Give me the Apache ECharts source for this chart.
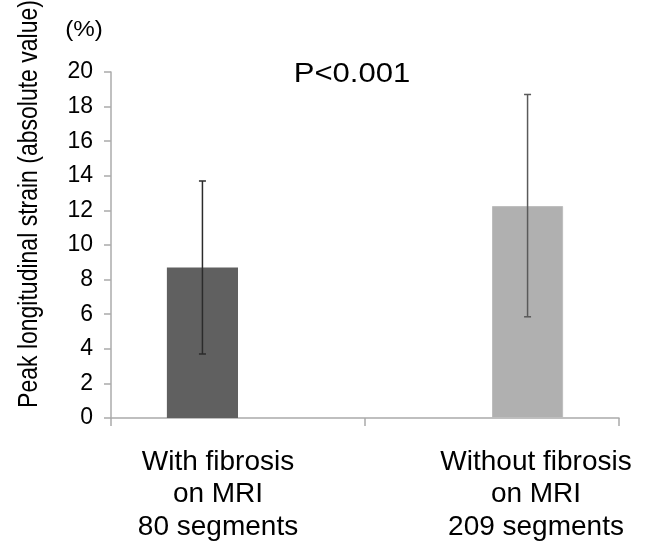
<!DOCTYPE html>
<html>
<head>
<meta charset="utf-8">
<script src="https://cdn.jsdelivr.net/npm/echarts@6/dist/echarts.min.js"></script>
<style>html,body{margin:0;padding:0;background:#fff;}#c{width:648px;height:544px;}</style>
</head>
<body>
<div id="c"></div>
<script>
var categories = ['With fibrosis\non MRI\n80 segments', 'Without fibrosis\non MRI\n209 segments'];
var meanWith = [8.7, '-'];
var meanWithout = ['-', 12.25];
var errLow = [3.7, 5.85];
var errHigh = [13.7, 18.7];
var yTicks = [0, 2, 4, 6, 8, 10, 12, 14, 16, 18, 20];
var pText = 'P<0.001';
var unitText = '(%)';
var yTitle = 'Peak longitudinal strain (absolute value)';

var FONT = '"Liberation Sans", Arial, sans-serif';
var chart = echarts.init(document.getElementById('c'), null, {renderer: 'canvas'});

var errData = categories.map(function (c, i) { return [i, errLow[i], errHigh[i], i === 0 ? -1 : 1]; });

var option = {
  backgroundColor: '#fff',
  animation: false,
  graphic: [
    {type: 'text', x: 352, y: 75, scaleX: 1.15,
     style: {text: pText, fontFamily: FONT, fontSize: 27, fill: '#000', textAlign: 'center', textVerticalAlign: 'middle'}},
    {type: 'text', x: 84, y: 30, scaleX: 1.1,
     style: {text: unitText, fontFamily: FONT, fontSize: 22, fill: '#000', textAlign: 'center', textVerticalAlign: 'middle'}},
    {type: 'text', x: 29, y: 204, rotation: Math.PI / 2, scaleY: 1.2,
     style: {text: yTitle, fontFamily: FONT, fontSize: 23, fill: '#000', textAlign: 'center', textVerticalAlign: 'middle'}}
  ],
  grid: {left: 111, right: 29, top: 72, bottom: 126, containLabel: false},
  xAxis: {
    type: 'category', data: categories, boundaryGap: true,
    axisLine: {lineStyle: {color: '#ababab', width: 1.5}},
    axisTick: {show: true, length: 8, interval: 0, lineStyle: {color: '#ababab', width: 1.5}},
    axisLabel: {
      interval: 0, margin: 28, fontFamily: FONT, fontSize: 28, lineHeight: 32.5, color: '#000',
      formatter: function (v, i) {
        var tag = i === 0 ? 'l' : 'r';
        return v.split('\n').map(function (s) { return '{' + tag + '|' + s + '}'; }).join('\n');
      },
      rich: {
        l: {fontFamily: FONT, fontSize: 28, lineHeight: 32.5, color: '#000', padding: [0, 40, 0, 0]},
        r: {fontFamily: FONT, fontSize: 28, lineHeight: 32.5, color: '#000', padding: [0, 0, 0, 88]}
      }
    }
  },
  yAxis: {
    type: 'value', min: yTicks[0], max: yTicks[yTicks.length - 1], interval: 2,
    axisLine: {show: true, lineStyle: {color: '#ababab', width: 1.5}},
    axisTick: {show: true, length: 7, lineStyle: {color: '#ababab', width: 1.5}},
    splitLine: {show: false},
    axisLabel: {margin: 18, fontFamily: FONT, fontSize: 23, color: '#000'}
  },
  series: [
    {type: 'bar', data: meanWith, barGap: '0%', barCategoryGap: '44%',
     itemStyle: {color: '#606060'}},
    {type: 'bar', data: meanWithout, barGap: '0%', barCategoryGap: '44%',
     itemStyle: {color: '#b0b0b0', borderColor: '#bdbdbd', borderWidth: 1}},
    {type: 'custom', data: errData, z: 10,
     renderItem: function (params, api) {
       var ci = api.value(0);
       var lo = api.coord([ci, api.value(1)]);
       var hi = api.coord([ci, api.value(2)]);
       var band = api.size([1, 0])[0];
       var off = api.value(3) * band * 0.56 / 4;
       var x = lo[0] + off;
       var col = ci === 0 ? '#2b2b2b' : '#5a5a5a';
       var cap = 3.5;
       var st = {stroke: col, lineWidth: 1.5};
       return {type: 'group', children: [
         {type: 'line', shape: {x1: x, y1: lo[1], x2: x, y2: hi[1]}, style: st},
         {type: 'line', shape: {x1: x - cap, y1: lo[1], x2: x + cap, y2: lo[1]}, style: st},
         {type: 'line', shape: {x1: x - cap, y1: hi[1], x2: x + cap, y2: hi[1]}, style: st}
       ]};
     }}
  ]
};
chart.setOption(option);
</script>
</body>
</html>
